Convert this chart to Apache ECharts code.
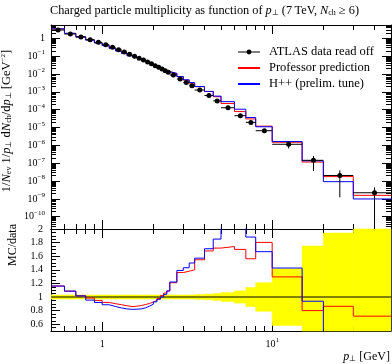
<!DOCTYPE html>
<html>
<head>
<meta charset="utf-8">
<style>
html, body { margin: 0; padding: 0; background: #fff; }
#main { width: 392px; height: 364px; }
</style>
<script src="https://cdn.jsdelivr.net/npm/echarts@6/dist/echarts.min.js"></script>
</head>
<body>
<div id="main"></div>
<script>
// bin edges in p_T [GeV]
const binEdges = [0.5, 0.6, 0.7, 0.8, 0.9, 1.0, 1.1, 1.2, 1.3, 1.4, 1.5, 1.6, 1.7, 1.8, 1.9, 2.0,
  2.1, 2.2, 2.3, 2.4, 2.5, 2.75, 3.0, 3.25, 3.5, 4.0, 4.5, 5, 6, 7, 8, 10, 15, 20, 30, 50]

const dataVals = [2.92, 1.74, 1.18, 0.835, 0.597, 0.438, 0.313, 0.23, 0.171, 0.127,
  0.098, 0.0757, 0.0608, 0.047, 0.038, 0.0294, 0.0236, 0.019, 0.0154, 0.0124,
  0.0088, 0.0052, 0.0033, 0.0022, 0.00126, 0.00062, 0.00031, 1.28e-4, 4.6e-5, 1.94e-5,
  6.6e-6, 1.15e-6, 1.45e-7, 2.05e-8, 2.2e-9]
const dataErr = [0.03, 0.03, 0.03, 0.03, 0.03, 0.03, 0.03, 0.03, 0.03, 0.03,
  0.03, 0.03, 0.03, 0.03, 0.03, 0.03, 0.03, 0.03, 0.03, 0.03,
  0.03, 0.03, 0.03, 0.03, 0.035, 0.04, 0.05, 0.065, 0.09, 0.14,
  0.21, 0.42, 0.75, 0.94, 1.0]

// Professor prediction
const profVals = [3.39, 1.89, 1.20, 0.822, 0.567, 0.403, 0.282, 0.204, 0.149, 0.109,
  0.0848, 0.0662, 0.0541, 0.0425, 0.0352, 0.0279, 0.0231, 0.0194, 0.0163, 0.0135,
  0.01065, 0.00707, 0.00455, 0.00308, 0.00195, 0.00104, 5.33e-4, 2.23e-4, 7.82e-5, 3.03e-5,
  1.19e-5, 1.49e-6, 1.16e-7, 1.77e-8, 1.58e-9]

// H++ (prelim. tune)
const hppVals = [3.39, 1.89, 1.20, 0.797, 0.549, 0.388, 0.269, 0.193, 0.141, 0.104,
  0.0804, 0.0625, 0.0511, 0.0407, 0.0340, 0.0273, 0.0228, 0.0190, 0.0160, 0.0135,
  0.01074, 0.00723, 0.00472, 0.0033, 0.00198, 0.00106, 5.74e-4, 2.82e-4, 1.06e-4, 3.65e-5,
  1.10e-5, 1.64e-6, 1.36e-7, 9.2e-9, 9.9e-10]

// tick labels
const xLabelTicks = [1, 10]
const xMinorTicks = [0.5, 0.6, 0.7, 0.8, 0.9, 2, 3, 4, 5, 6, 7, 8, 9, 20, 30, 40, 50]
const yLabelTicks = [1e-10, 1e-9, 1e-8, 1e-7, 1e-6, 1e-5, 1e-4, 1e-3, 1e-2, 1e-1, 1]
const ratioLabelTicks = [0.6, 0.8, 1.0, 1.2, 1.4, 1.6, 1.8, 2.0]

const FONT = 'Liberation Serif'
const xMin = 0.5, xMax = 50
const yMin = 2.05e-11, yMax = 5.57
const rMin = 0.5, rMax = 2.0

let yMinorTicks = []
for (let n = -11; n <= 0; n++) {
  for (let k = 2; k <= 9; k++) yMinorTicks.push(k * Math.pow(10, n))
}
let ratioMinorTicks = []
for (let i = 10; i <= 40; i++) ratioMinorTicks.push(i * 0.05)

const sup = { fontSize: 7, fontFamily: FONT, verticalAlign: 'top', lineHeight: 8, color: '#000' }
const sub = { fontSize: 8, fontFamily: FONT, verticalAlign: 'bottom', lineHeight: 7, color: '#000' }
const ital = { fontStyle: 'italic', fontFamily: FONT, color: '#000' }

function histLine(vals) {
  let pts = []
  vals.forEach((v, i) => {
    pts.push([binEdges[i], v], [binEdges[i + 1], v])
  })
  return pts
}
function ratioLine(vals) {
  return histLine(vals.map((v, i) => v / dataVals[i]))
}
function logFmt(v) {
  const n = Math.round(Math.log10(v))
  if (n === 0) return '1'
  return '10{s|' + (n < 0 ? '\u2212' : '') + Math.abs(n) + '}'
}

// one axis of the frame: ticks only, or with labels
function xAx(grid, pos, ticks, len, line, labels) {
  return {
    type: 'log', logBase: 10, gridIndex: grid, position: pos, min: xMin, max: xMax,
    axisLine: { show: line, onZero: false, lineStyle: { color: '#000', width: 1 } },
    axisTick: { show: true, inside: true, length: len, customValues: ticks, lineStyle: { color: '#000', width: 1 } },
    axisLabel: {
      show: !!labels, customValues: xLabelTicks, margin: 6, formatter: logFmt,
      color: '#000', fontFamily: FONT, fontSize: 10, lineHeight: 14,
      rich: { s: sup }
    },
    splitLine: { show: false }
  }
}
function yAxTop(pos, ticks, len, line, labels) {
  return {
    type: 'log', logBase: 10, gridIndex: 0, position: pos, min: yMin, max: yMax,
    axisLine: { show: line, onZero: false, lineStyle: { color: '#000', width: 1 } },
    axisTick: { show: true, inside: true, length: len, customValues: ticks, lineStyle: { color: '#000', width: 1 } },
    axisLabel: {
      show: !!labels, customValues: yLabelTicks, margin: 6, formatter: logFmt,
      color: '#000', fontFamily: FONT, fontSize: 10, lineHeight: 14,
      rich: { s: sup }
    },
    splitLine: { show: false }
  }
}
function yAxRatio(pos, ticks, len, line, labels) {
  return {
    type: 'value', gridIndex: 1, position: pos, min: rMin, max: rMax,
    axisLine: { show: line, onZero: false, lineStyle: { color: '#000', width: 1 } },
    axisTick: { show: true, inside: true, length: len, customValues: ticks, lineStyle: { color: '#000', width: 1 } },
    axisLabel: {
      show: !!labels, customValues: ratioLabelTicks, margin: 8,
      formatter: v => String(Math.round(v * 10) / 10),
      color: '#000', fontFamily: FONT, fontSize: 10
    },
    splitLine: { show: false }
  }
}

let xAxes = [
  xAx(0, 'bottom', xLabelTicks, 9, true, false),
  xAx(0, 'bottom', xMinorTicks, 5, false, false),
  xAx(0, 'top', xLabelTicks, 9, true, false),
  xAx(0, 'top', xMinorTicks, 5, false, false),
  xAx(1, 'bottom', xLabelTicks, 9, true, true),
  xAx(1, 'bottom', xMinorTicks, 5, false, false),
  xAx(1, 'top', xLabelTicks, 9, true, false),
  xAx(1, 'top', xMinorTicks, 5, false, false)
]
xAxes[4].name = '{i|p}{b|\u22a5} [GeV]'
xAxes[4].nameLocation = 'end'
xAxes[4].nameGap = -1
xAxes[4].nameTextStyle = {
  color: '#000', fontFamily: FONT, fontSize: 12, align: 'right', verticalAlign: 'top',
  padding: [20, 0, 0, 0], rich: { i: ital, b: sub }
}

let yAxes = [
  yAxTop('left', yLabelTicks, 9, true, true),
  yAxTop('left', yMinorTicks, 5, false, false),
  yAxTop('right', yLabelTicks, 9, true, false),
  yAxTop('right', yMinorTicks, 5, false, false),
  yAxRatio('left', ratioLabelTicks, 9, true, true),
  yAxRatio('left', ratioMinorTicks, 5, false, false),
  yAxRatio('right', ratioLabelTicks, 9, true, false),
  yAxRatio('right', ratioMinorTicks, 5, false, false)
]
yAxes[0].name = '1/{i|N}{b|ev} 1/{i|p}{b|\u22a5} d{i|N}{b|ch}/d{i|p}{b|\u22a5} [GeV{s|\u22122}]'
yAxes[0].nameLocation = 'middle'
yAxes[0].nameRotate = 90
yAxes[0].nameGap = 32
yAxes[0].nameTextStyle = {
  color: '#000', fontFamily: FONT, fontSize: 12.5, padding: [0, 0, 0, 12],
  rich: { i: ital, b: sub, s: sup }
}
yAxes[4].name = 'MC/data'
yAxes[4].nameLocation = 'middle'
yAxes[4].nameRotate = 90
yAxes[4].nameGap = 32
yAxes[4].nameTextStyle = { color: '#000', fontFamily: FONT, fontSize: 12, padding: [0, 0, 0, 70] }

const chart = echarts.init(document.getElementById('main'), null, { renderer: 'canvas' })

chart.setOption({
  animation: false,
  backgroundColor: '#fff',
  title: {
    text: 'Charged particle multiplicity as function of {i|p}{b|\u22a5} (7\u2009TeV, {i|N}{b|ch} \u2265 6)',
    left: 50, top: 5, padding: 0,
    textStyle: {
      color: '#000', fontFamily: FONT, fontSize: 12.3, fontWeight: 'normal',
      rich: { i: ital, b: sub }
    }
  },
  legend: {
    orient: 'vertical', left: 232, top: 40,
    itemWidth: 22, itemHeight: 6, itemGap: 2,
    textStyle: { color: '#000', fontFamily: FONT, fontSize: 12.5, lineHeight: 14, padding: [0, 0, 0, 4] },
    data: [
      { name: 'ATLAS data read off', lineStyle: { color: '#000', width: 1, opacity: 1 } },
      { name: 'Professor prediction', itemStyle: { opacity: 0 } },
      { name: 'H++ (prelim. tune)', itemStyle: { opacity: 0 } }
    ]
  },
  grid: [
    { left: 51, top: 25, width: 340, height: 204, containLabel: false, outerBoundsMode: 'none' },
    { left: 51, top: 229, width: 340, height: 102, containLabel: false, outerBoundsMode: 'none' }
  ],
  xAxis: xAxes,
  yAxis: yAxes,
  series: [
    {
      name: 'Professor prediction', type: 'line', xAxisIndex: 0, yAxisIndex: 0,
      data: histLine(profVals), symbol: 'none', z: 3,
      lineStyle: { color: '#ff0000', width: 1 }, itemStyle: { color: '#ff0000' }
    },
    {
      name: 'H++ (prelim. tune)', type: 'line', xAxisIndex: 0, yAxisIndex: 0,
      data: histLine(hppVals), symbol: 'none', z: 4,
      lineStyle: { color: '#0000ff', width: 1 }, itemStyle: { color: '#0000ff' }
    },
    {
      name: 'errors', type: 'custom', xAxisIndex: 0, yAxisIndex: 0, z: 5,
      data: dataVals.map((v, i) => [binEdges[i], binEdges[i + 1], v, dataErr[i]]),
      renderItem: (params, api) => {
        const lo = api.value(0), hi = api.value(1), v = api.value(2), e = api.value(3)
        const cs = params.coordSys
        const c = (lo + hi) / 2
        const l = api.coord([lo, v]), r = api.coord([hi, v])
        const up = api.coord([c, v * (1 + e)])
        const dv = v * (1 - e)
        const bottom = cs.y + cs.height
        const dn = dv > 0 ? Math.min(api.coord([c, dv])[1], bottom) : bottom
        return {
          type: 'group', children: [
            { type: 'line', shape: { x1: l[0], y1: l[1], x2: r[0], y2: r[1] }, style: { stroke: '#000', lineWidth: 1 } },
            { type: 'line', shape: { x1: up[0], y1: up[1], x2: up[0], y2: dn }, style: { stroke: '#000', lineWidth: 1 } }
          ]
        }
      }
    },
    {
      name: 'ATLAS data read off', type: 'line', xAxisIndex: 0, yAxisIndex: 0, z: 6,
      data: dataVals.map((v, i) => [(binEdges[i] + binEdges[i + 1]) / 2, v]),
      symbol: 'circle', symbolSize: 5, showSymbol: true,
      itemStyle: { color: '#000' }, lineStyle: { opacity: 0, width: 0, color: '#000' }
    },
    // ratio panel
    {
      name: 'band', type: 'custom', xAxisIndex: 4, yAxisIndex: 4, z: 1,
      data: dataErr.map((e, i) => [binEdges[i], binEdges[i + 1], e]),
      renderItem: (params, api) => {
        const lo = api.value(0), hi = api.value(1), e = api.value(2)
        const p0 = api.coord([lo, 1 + e]), p1 = api.coord([hi, 1 - e])
        const cs = params.coordSys
        const rect = echarts.graphic.clipRectByRect(
          { x: p0[0], y: p0[1], width: p1[0] - p0[0], height: p1[1] - p0[1] },
          { x: cs.x, y: cs.y, width: cs.width, height: cs.height })
        return rect && { type: 'rect', shape: rect, style: { fill: '#ffff00', stroke: '#ffff00', lineWidth: 0.5 } }
      }
    },
    {
      name: 'unity', type: 'line', xAxisIndex: 4, yAxisIndex: 4, z: 2,
      data: [[xMin, 1], [xMax, 1]], symbol: 'none',
      lineStyle: { color: '#000', width: 1 }
    },
    {
      name: 'Professor ratio', type: 'line', xAxisIndex: 4, yAxisIndex: 4, z: 3,
      data: ratioLine(profVals), symbol: 'none',
      lineStyle: { color: '#ff0000', width: 1 }
    },
    {
      name: 'H++ ratio', type: 'line', xAxisIndex: 4, yAxisIndex: 4, z: 4,
      data: ratioLine(hppVals), symbol: 'none',
      lineStyle: { color: '#0000ff', width: 1 }
    }
  ]
})
</script>
</body>
</html>
